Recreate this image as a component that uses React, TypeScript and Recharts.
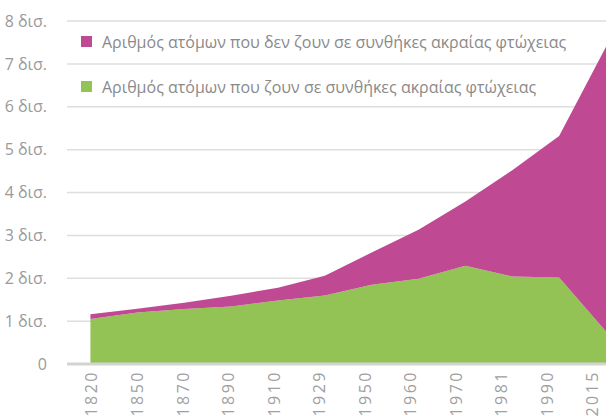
import { AreaChart, Area, XAxis, YAxis, CartesianGrid, Legend } from "recharts";

const years = ["1820", "1850", "1870", "1890", "1910", "1929", "1950", "1960", "1970", "1981", "1990", "2015"];
// δισεκατομμύρια ατόμων
const poor = [1.05, 1.2, 1.28, 1.34, 1.48, 1.6, 1.85, 1.99, 2.29, 2.04, 2.02, 0.76];
const notPoor = [0.11, 0.09, 0.15, 0.25, 0.3, 0.46, 0.75, 1.14, 1.5, 2.48, 3.3, 6.64];
const yTicks = [0, 1, 2, 3, 4, 5, 6, 7, 8];

const LABEL_POOR = "Αριθμός ατόμων που ζουν σε συνθήκες ακραίας φτώχειας";
const LABEL_NOT_POOR = "Αριθμός ατόμων που δεν ζουν σε συνθήκες ακραίας φτώχειας";

const GREEN = "#93c255";
const PURPLE = "#bf4993";
const FONT = "'Open Sans', sans-serif";

const data = years.map((y, i) => ({ i, year: y, poor: poor[i], notPoor: notPoor[i] }));
const minorTicks = Array.from({ length: 24 }, (_, k) => k / 2 - 0.5);

const legendItems = [
  { label: LABEL_NOT_POOR, color: PURPLE },
  { label: LABEL_POOR, color: GREEN }
];

function LegendBox() {
  return (
    <div style={{ fontFamily: FONT, fontSize: 16, color: "#8a8a8a" }}>
      {legendItems.map((it) => (
        <div key={it.label} style={{ display: "flex", alignItems: "center", height: 45, whiteSpace: "nowrap" }}>
          <span style={{ width: 11, height: 11, background: it.color, marginRight: 10, display: "inline-block" }} />
          {it.label}
        </div>
      ))}
    </div>
  );
}

function YearTick(props: any) {
  const { x, y, payload } = props;
  return (
    <text
      x={x}
      y={y}
      transform={`rotate(-90, ${x}, ${y})`}
      textAnchor="end"
      dominantBaseline="central"
      fill="#a0a0a0"
      fontSize={16}
      letterSpacing={2.5}
      fontFamily={FONT}
    >
      {years[payload.value]}
    </text>
  );
}

export default function App() {
  return (
    <div style={{ position: "absolute", left: 0, top: 0 }}>
      <AreaChart width={614} height={416} data={data} margin={{ top: 21, right: 8, bottom: 0, left: 0 }}>
        <CartesianGrid horizontal vertical={false} stroke="#dedede" strokeWidth={1.5} />
        <YAxis
          domain={[0, 8]}
          ticks={yTicks}
          width={67}
          axisLine={false}
          tickLine={false}
          tickMargin={14}
          tick={{ fill: "#9a9a9a", fontSize: 16, fontFamily: FONT }}
          tickFormatter={(v: number) => (v === 0 ? "0" : `${v} δισ.`)}
        />
        <Area
          type="linear"
          dataKey="poor"
          xAxisId="data"
          stackId="a"
          stroke="none"
          fill={GREEN}
          fillOpacity={1}
          isAnimationActive={false}
        />
        <Area
          type="linear"
          dataKey="notPoor"
          xAxisId="data"
          stackId="a"
          stroke="none"
          fill={PURPLE}
          fillOpacity={1}
          isAnimationActive={false}
        />
        <XAxis
          xAxisId="data"
          dataKey="i"
          type="number"
          domain={[-0.5, 11]}
          ticks={minorTicks}
          height={2}
          axisLine={{ stroke: "#d3d3d3", strokeWidth: 3 }}
          tickLine={{ stroke: "#dadada", strokeWidth: 1.5 }}
          tickSize={-6}
          tick={false}
          interval={0}
        />
        <XAxis
          xAxisId="lab"
          dataKey="i"
          type="number"
          domain={[-0.537, 11.3]}
          allowDataOverflow
          ticks={[0, 1, 2, 3, 4, 5, 6, 7, 8, 9, 10, 11]}
          interval={0}
          height={50}
          axisLine={false}
          tickLine={false}
          tickSize={0}
          tickMargin={4}
          tick={<YearTick />}
        />
        <Legend
          layout="vertical"
          align="center"
          verticalAlign="middle"
          wrapperStyle={{ top: 19, left: 81, width: "auto", height: "auto" }}
          content={() => <LegendBox />}
        />
      </AreaChart>
    </div>
  );
}
